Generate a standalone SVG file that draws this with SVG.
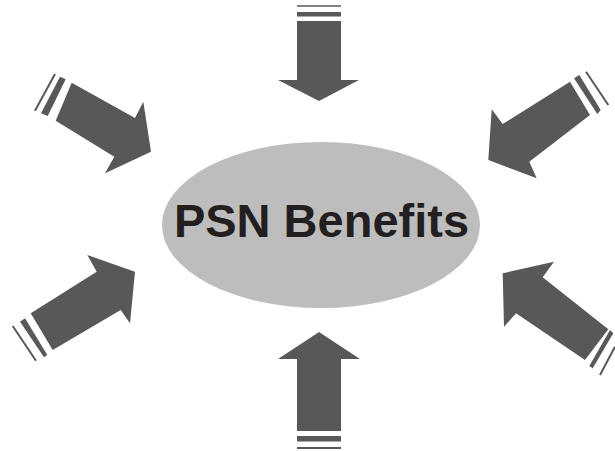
<svg xmlns="http://www.w3.org/2000/svg" width="615" height="451" viewBox="0 0 615 451">
<style>
.a{fill:#58585a}
.l{stroke:#58585a;stroke-width:2;fill:none}
.t{font-family:"Liberation Sans",Arial,sans-serif;font-weight:bold;font-size:47px;fill:#231f20}
</style>
<rect width="615" height="451" fill="#ffffff"/>
<g id="connectors">
<g id="arrow-top">
<line class="l" x1="297" y1="6" x2="341" y2="6" style="stroke-width:1.6"/>
<rect class="a" x="297" y="12" width="44" height="4.5"/>
<polygon class="a" points="297,21 341,21 341,80 359,80 319,101 278,80 297,80"/>
</g>
<g id="arrow-bottom">
<line class="l" x1="297" y1="448" x2="341" y2="448"/>
<rect class="a" x="297" y="436" width="44" height="5.5"/>
<polygon class="a" points="297,431 341,431 341,359 360,359 319,332 278,359 297,359"/>
</g>
<g id="arrow-nw">
<line class="l" x1="55" y1="74" x2="35" y2="110.7"/>
<polygon class="a" points="60,76.7 65.7,79.3 47.7,116 41,113.3"/>
<polygon class="a" points="71.7,82.7 135,118 143.3,101.7 151,151.7 105,173.3 114.3,156.7 55.7,120.7"/>
</g>
<g id="arrow-ne">
<line class="l" x1="586" y1="71.7" x2="608.3" y2="105"/>
<polygon class="a" points="574,78.3 579.3,75 600.7,110 597.3,114"/>
<polygon class="a" points="570,81.7 502.7,124 491.7,109.3 488.3,160 536.7,178.3 529.3,161.7 590,115"/>
</g>
<g id="arrow-sw">
<line class="l" x1="12.7" y1="326" x2="36" y2="360.7"/>
<polygon class="a" points="20,321.7 25,318.3 47.3,355 44,357.3"/>
<polygon class="a" points="30.7,313.3 96.7,271.7 87.3,255 135,271.7 130,323.3 120.7,310 52.7,350"/>
</g>
<g id="arrow-se">
<line class="l" x1="615" y1="346.7" x2="600" y2="375"/>
<polygon class="a" points="610,330 613.3,333.3 592.7,368.3 589.3,366"/>
<polygon class="a" points="608.3,329.3 542.7,277.3 554,261.7 502.7,273.3 504,326.7 516,313.3 585,360"/>
</g>
</g>
<g id="node-psn">
<ellipse cx="321" cy="225" rx="159" ry="83" fill="#bdbdbd"/>
<text class="t" x="321.5" y="237" text-anchor="middle">PSN Benefits</text>
</g>
</svg>
